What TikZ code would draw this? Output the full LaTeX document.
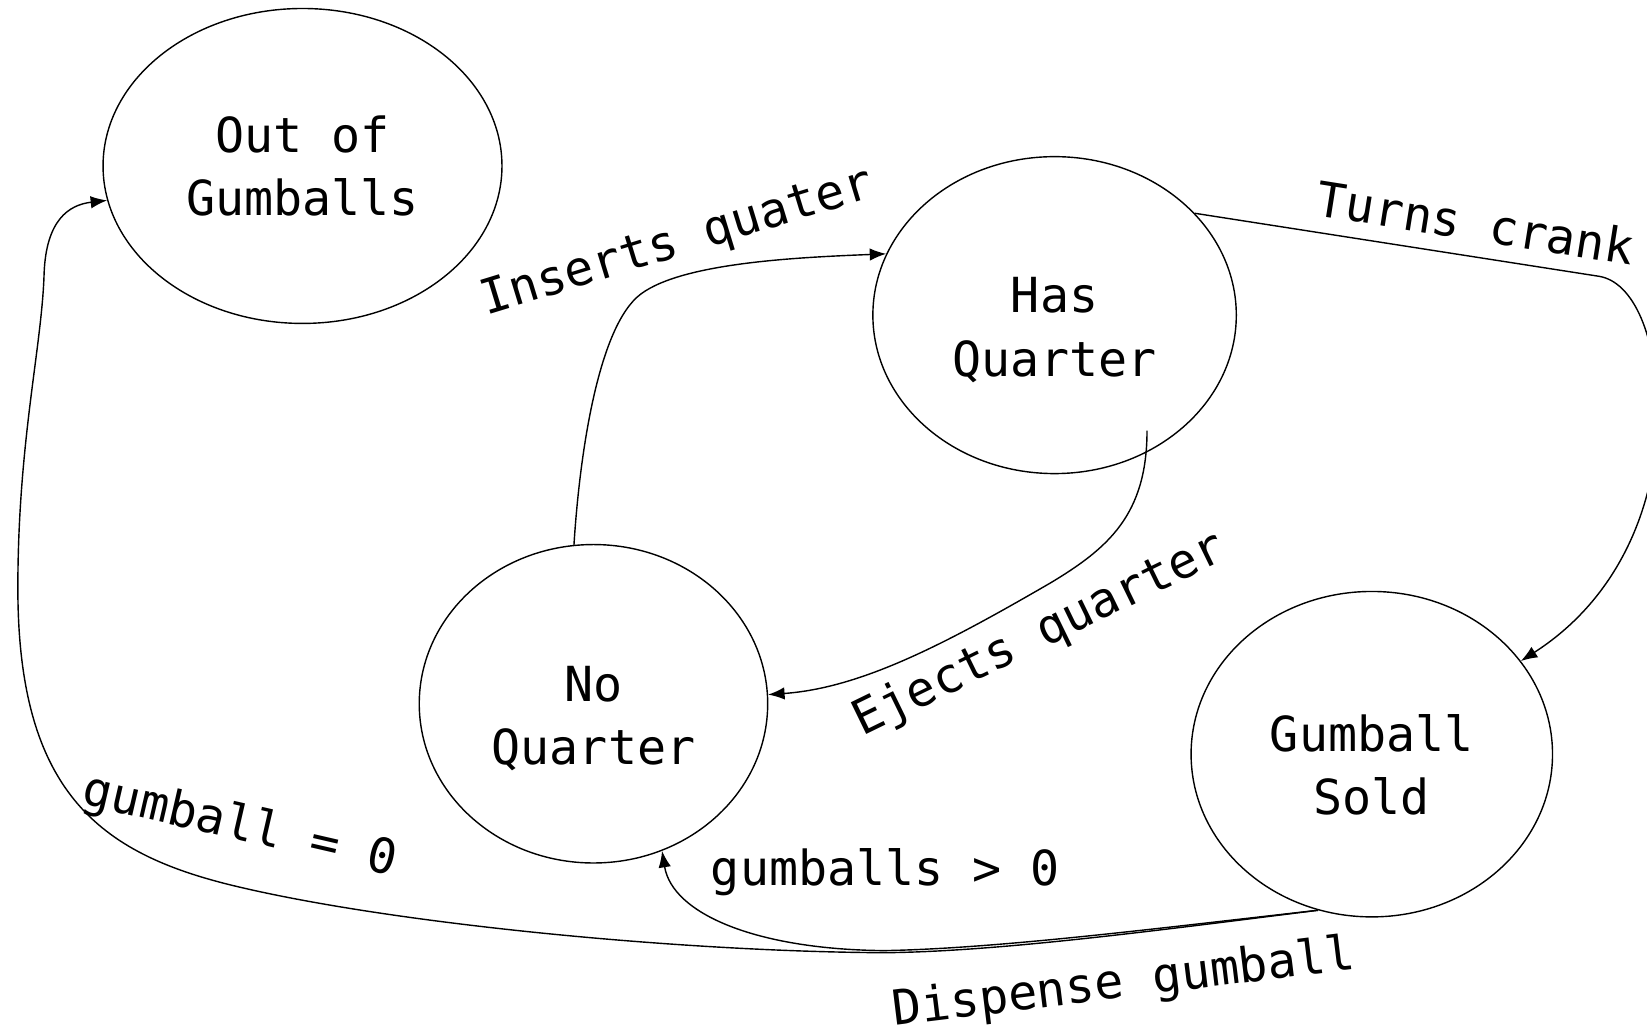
\documentclass[tikz,border=0pt]{standalone}
\usepackage{fontspec}
\usepackage{tikz}
\usetikzlibrary{arrows.meta,shapes.geometric}
\newfontfamily\gumfont{DejaVu Sans Mono}
\newcommand\tallstrut{\rule{0pt}{37pt}}
\tikzset{
  st/.style={draw, ellipse, line width=.8pt, inner sep=0pt, align=center, font=\gumfont\fontsize{27.5}{36}\selectfont},
  ar/.style={-{Latex[length=3.3mm,width=2.5mm]}, line width=.8pt},
  lbl/.style={font=\gumfont\fontsize{27.5}{36}\selectfont, inner sep=0pt},
}
\begin{document}
\begin{tikzpicture}[x=0.021008cm, y=-0.021008cm]
  \useasboundingbox (0,0) rectangle (1568,982);
  % states
  \node[st, minimum width=7.98cm, minimum height=6.30cm] (oog) at (288,158) {Out of\\Gumballs};
  \node[st, minimum width=7.27cm, minimum height=6.34cm] (hq) at (1004,300) {\tallstrut Has\\Quarter};
  \node[st, minimum width=6.97cm, minimum height=6.37cm] (nq) at (565,670) {\tallstrut No\\Quarter};
  \node[st, minimum width=7.23cm, minimum height=6.51cm] (gs) at (1306,718) {\rule{0pt}{33pt}Gumball\\Sold};
  % transitions
  \draw[ar] (nq.97) .. controls (552,430) and (570,310) .. (610,280) .. controls (650,250) and (760,245) .. (hq.160);
  \draw[ar] ([shift={(88,110)}]hq.center) .. controls (1092,490) and (1055,522) .. (1000,555) .. controls (900,613) and (820,655) .. (nq.3);
  \draw[ar] (hq.36) -- (1522,263) .. controls (1555,268) and (1578,320) .. (1578,395) .. controls (1578,470) and (1548,565) .. (gs.32);
  \draw[ar] (gs.251) .. controls (1100,884) and (950,903) .. (842,905) .. controls (720,904) and (640,870) .. (nq.-65);
  \draw[ar] (gs.251) .. controls (1100,886) and (950,906) .. (842,907) .. controls (650,906) and (380,880) .. (230,845)
    .. controls (100,815) and (17,760) .. (17,560) .. controls (17,420) and (40,330) .. (42,260)
    .. controls (44,210) and (65,195) .. (oog.190);
  % labels
  \node[lbl, rotate=17] (lins) at (645,232) {Inserts quater};
  \node[lbl, rotate=26] (lej) at (990,605) {Ejects quarter};
  \node[lbl, rotate=-9] (ltc) at (1405,212) {Turns crank};
  \node[lbl, rotate=-13] (lzero) at (228,787) {gumball = 0};
  \node[lbl] (lgt) at (843,830) {gumballs > 0};
  \node[lbl, rotate=7] (ldisp) at (1070,937) {Dispense gumball};
\end{tikzpicture}
\end{document}
